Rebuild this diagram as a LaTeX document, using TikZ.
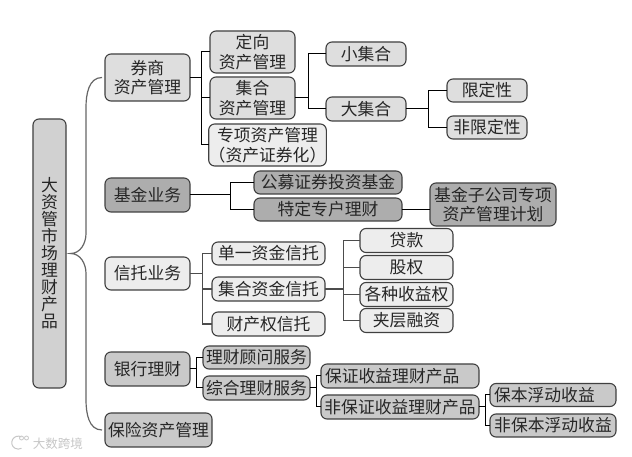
\documentclass[tikz,border=0pt]{standalone}
\usepackage{fontspec}
\setmainfont{Noto Sans CJK SC}
\usetikzlibrary{positioning}

\begin{document}
\begin{tikzpicture}[on grid,
    every node/.style={font=\fontsize{16.8}{19.5}\selectfont,text=black!85,align=center,inner sep=0pt,outer sep=0pt},
    item/.style 2 args={draw=black!75,line width=1.1pt,rounded corners=6pt,minimum width=#1pt,minimum height=#2pt},
    broker/.style={fill=black!13},
    fund/.style={fill=black!32},
    trust/.style={fill=black!7},
    bank/.style={fill=black!21},
    stock/.style={fill=black!18},
    flush/.style={text width=#1pt,align=left},
    link/.style={draw=black,line width=1pt},
    trunk/.style={draw=black!70,line width=1.1pt},
    elbow/.style={to path={-- ++(#1pt,0) |- (\tikztotarget)}},
    bracket/.style={draw=black!60,line width=1.2pt},
    stamp/.style={draw=black!22,line width=1pt}]

  \useasboundingbox[fill=white] (-49.5pt,253.5pt) rectangle (582.5pt,-203.5pt);

  \node[item={33}{269},stock]   (root)                                          {大\\[-2.5pt]资\\[-2.5pt]管\\[-2.5pt]市\\[-2.5pt]场\\[-2.5pt]理\\[-2.5pt]财\\[-2.5pt]产\\[-2.5pt]品};
  \coordinate[right=21pt of root] (tip);

  % first column
  \node[item={85}{47},broker]   (sec_1)  [above right=176pt and 98pt of root]   {券商\\资产管理};
  \node[item={85}{34},fund]     (sec_2)  [below=117.5pt of sec_1]               {基金业务};
  \node[item={85}{33},trust]    (sec_3)  [below=78.5pt of sec_2]                {信托业务};
  \node[item={85}{34},bank]     (sec_4)  [below=95.5pt of sec_3]                {银行理财};
  \node[item={107}{34},bank]    (sec_5)  [below right=61pt and 11pt of sec_4]   {保险资产管理};

  % securities branch
  \node[item={85}{42},broker]   (sub_1)  [above right=25.5pt and 105pt of sec_1] {定向\\资产管理};
  \node[item={85}{42},broker]   (sub_2)  [below=46pt of sub_1]                  {集合\\资产管理};
  \node[item={115}{42},trust]   (sub_3)  [below right=47pt and 15pt of sub_2]   {专项资产管理\\（资产证券化）};
  \node[item={80}{24},broker]   (set_1)  [below right=2pt and 113.5pt of sub_1] {小集合};
  \node[item={80}{24},broker]   (set_2)  [below=55pt of set_1]                  {大集合};
  \node[item={80}{23},broker]   (lim_1)  [above right=18.5pt and 121pt of set_2] {限定性};
  \node[item={80}{23},broker]   (lim_2)  [below=37pt of lim_1]                  {非限定性};

  % fund branch
  \node[item={148}{23},fund]    (pub_1)  [above right=12.5pt and 180.5pt of sec_2] {公募证券投资基金};
  \node[item={148}{23},fund]    (pub_2)  [below=27pt of pub_1]                  {特定专户理财};
  \node[item={126}{43},fund]    (plan)   [above right=5pt and 165pt of pub_2]   {基金子公司专项\\资产管理计划};

  % trust branch
  \node[item={113}{23},trust]   (tru_1)  [above right=20pt and 121pt of sec_3]  {单一资金信托};
  \node[item={113}{24},trust]   (tru_2)  [below=35.5pt of tru_1]                {集合资金信托};
  \node[item={113}{24},trust]   (tru_3)  [below=35pt of tru_2]                  {财产权信托};
  \node[item={93}{24},trust]    (use_1)  [above right=48.5pt and 138pt of tru_2] {贷款};
  \node[item={93}{24},trust]    (use_2)  [below=27pt of use_1]                  {股权};
  \node[item={93}{24},trust]    (use_3)  [below=27pt of use_2]                  {各种收益权};
  \node[item={93}{24},trust]    (use_4)  [below=26pt of use_3]                  {夹层融资};

  % bank branch
  \node[item={107}{23},bank]    (ban_1)  [above right=11.5pt and 109pt of sec_4] {理财顾问服务};
  \node[item={107}{24},bank]    (ban_2)  [below=30.5pt of ban_1]                {综合理财服务};
  \node[item={158}{24},bank,flush=150] (inc_1) [above right=12pt and 143.5pt of ban_2] {保证收益理财产品};
  \node[item={158}{24},bank]    (inc_2)  [below=31pt of inc_1]                  {非保证收益理财产品};
  \node[item={126}{23},bank,flush=118] (flo_1) [above right=12pt and 153pt of inc_2] {保本浮动收益};
  \node[item={126}{23},bank]    (flo_2)  [below=30.5pt of flo_1]                {非保本浮动收益};

  % big bracket
  \draw[bracket] ([xshift=-3pt]sec_1.west) to[out=180,in=90] ++(-16pt,-30pt) -- ++(0,-126pt) to[out=-90,in=0] (tip)
    to[out=0,in=90] ++(15.5pt,-20pt) -- ++(0,-126pt) to[out=-90,in=180] ([xshift=-3pt]sec_5.west);

  \path[link] (sec_1.east) edge[elbow=11.5] (sub_1.west)
    (sec_1.east) edge[elbow=11.5] (sub_2.west)
    (sec_1.east) edge[elbow=11.5] (sub_3.west)
    (sub_2.east) edge[elbow=13] (set_1.west)
    (sub_2.east) edge[elbow=13] (set_2.west)
    (set_2.east) edge[elbow=22] (lim_1.west)
    (set_2.east) edge[elbow=22] (lim_2.west)
    (sec_2.east) edge[elbow=40] (pub_1.west)
    (sec_2.east) edge[elbow=40] (pub_2.west)
    (pub_2.east) edge (pub_2.east -| plan.west)
    (sec_4.east) edge[elbow=6.7] (ban_1.west)
    (sec_4.east) edge[elbow=6.7] (ban_2.west)
    (ban_2.east) edge[elbow=6] (inc_1.west)
    (ban_2.east) edge[elbow=6] (inc_2.west)
    (inc_2.east) edge[elbow=6] (flo_1.west)
    (inc_2.east) edge[elbow=6] (flo_2.west);

  \path[trunk] (sec_3.east) edge[elbow=12.7] (tru_1.west)
    (sec_3.east) edge[elbow=12.7] (tru_2.west)
    (sec_3.east) edge[elbow=12.7] (tru_3.west)
    (tru_2.east) edge[elbow=18.7] (use_1.west)
    (tru_2.east) edge[elbow=18.7] (use_2.west)
    (tru_2.east) edge[elbow=18.7] (use_3.west)
    (tru_2.east) edge[elbow=18.7] (use_4.west);

  % faint stamp, bottom left
  \node[font=\fontsize{12.5}{14}\selectfont,text=black!22] (stamp_text) [below right=190.5pt and 8.5pt of root] {大数跨境};
  \draw[stamp] (-28pt,-183.5pt) arc (60:300:6.5pt);
  \draw[stamp,line width=.8pt] (-28pt,-184.5pt) circle (2pt) (-23pt,-184.5pt) circle (2pt);
\end{tikzpicture}
\end{document}
